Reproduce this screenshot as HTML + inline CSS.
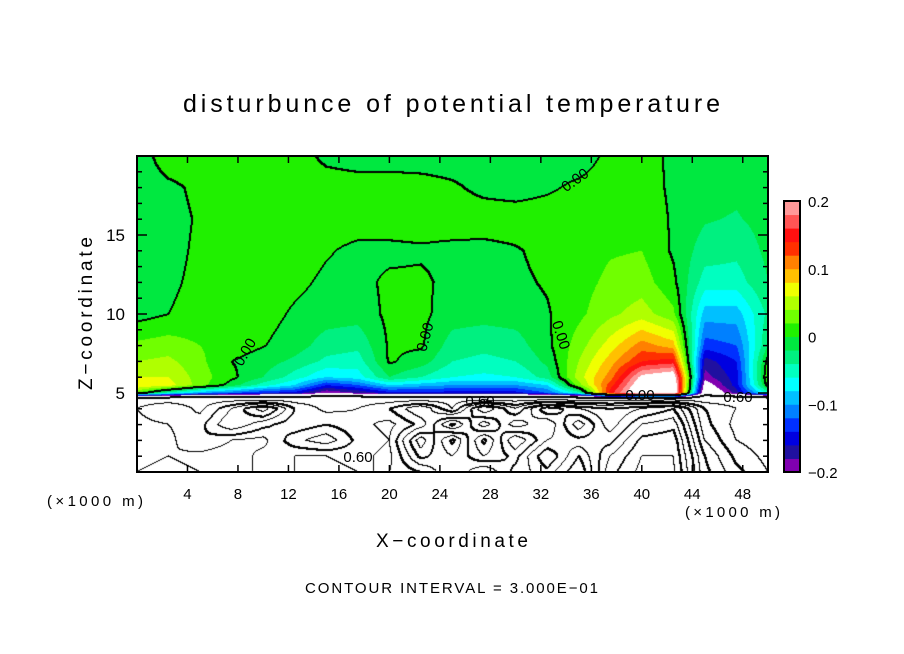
<!DOCTYPE html>
<html><head><meta charset="utf-8">
<style>
html,body{margin:0;padding:0;background:#fff;}
#wrap{position:relative;width:904px;height:654px;overflow:hidden;font-family:"Liberation Sans",sans-serif;}
#field{position:absolute;left:137px;top:156px;}
svg{position:absolute;left:0;top:0;}
</style></head>
<body>
<div id="wrap">
<canvas id="field" width="631" height="316"></canvas>
<svg id="ov" width="904" height="654"></svg>
</div>
<script>
// ---- data ----
const xCoords = [0,2.5,5,7.5,10,12.5,15,17.5,20,22.5,25,27.5,30,32.5,35,37.5,40,42.5,45,47.5,50];
const zLevels = [20,18,16,14,12,10,8,7,6,5.5,5,4.6,4,3,2,1,0];
const field = [
 [-0.01,0.01,0.01,0.01,0.01,0.01,-0.005,-0.01,-0.01,-0.01,-0.01,-0.01,-0.01,-0.01,-0.01,0.005,0.01,-0.005,-0.01,-0.01,-0.01],
 [-0.01,-0.004,0.004,0.01,0.01,0.01,0.01,0.01,0.01,0.008,0.003,-0.005,-0.008,-0.003,0.004,0.01,0.01,-0.004,-0.01,-0.015,-0.01],
 [-0.01,-0.006,0.002,0.01,0.01,0.01,0.01,0.01,0.01,0.01,0.01,0.01,0.01,0.01,0.01,0.012,0.015,-0.003,-0.018,-0.022,-0.012],
 [-0.01,-0.005,0.003,0.01,0.01,0.01,0.002,-0.005,-0.005,-0.003,-0.005,-0.006,-0.002,0.006,0.01,0.018,0.02,-0.003,-0.03,-0.035,-0.015],
 [-0.01,-0.003,0.004,0.01,0.01,0.005,-0.004,-0.006,0.004,0.004,-0.006,-0.006,-0.004,0.002,0.012,0.025,0.03,0.005,-0.05,-0.05,-0.02],
 [-0.008,0.0,0.006,0.01,0.008,-0.003,-0.01,-0.012,0.005,0.005,-0.01,-0.012,-0.01,-0.002,0.015,0.035,0.05,0.025,-0.09,-0.09,-0.035],
 [0.025,0.03,0.02,0.01,0.001,-0.01,-0.03,-0.035,0.003,0.003,-0.03,-0.035,-0.03,-0.005,0.03,0.07,0.11,0.09,-0.13,-0.12,-0.02],
 [0.04,0.045,0.025,0.0,-0.01,-0.025,-0.045,-0.05,0.003,-0.01,-0.04,-0.045,-0.04,-0.015,0.04,0.09,0.14,0.15,-0.17,-0.14,0.01],
 [0.06,0.06,0.03,0.005,-0.02,-0.05,-0.08,-0.07,-0.02,-0.04,-0.06,-0.065,-0.06,-0.03,0.05,0.11,0.21,0.23,-0.19,-0.15,0.02],
 [0.08,0.07,0.03,-0.01,-0.05,-0.08,-0.14,-0.12,-0.08,-0.09,-0.1,-0.1,-0.1,-0.08,0.03,0.13,0.23,0.25,-0.22,-0.15,0.01],
 [0.02,-0.05,-0.1,-0.12,-0.14,-0.15,-0.2,-0.18,-0.15,-0.15,-0.15,-0.15,-0.15,-0.12,-0.05,0.15,0.25,0.25,-0.25,-0.17,-0.05],
 [-0.4,-0.4,-0.4,-0.4,-0.4,-0.4,-0.4,-0.4,-0.4,-0.4,-0.4,-0.4,-0.4,-0.4,-0.4,-0.4,-0.4,-0.4,-0.4,-0.4,-0.4],
 [-0.6,-0.9,-0.5,-1.2,-2.0,-0.9,-0.5,-0.6,-0.9,-1.5,-0.6,-2.1,-1.2,-2.4,-1.8,-1.5,-1.8,-2.1,-0.9,-0.6,-0.5],
 [-0.5,-0.6,-0.8,-1.5,-1.0,-0.7,-0.9,-0.7,-0.5,-1.0,-2.2,-1.0,-2.0,-1.5,-2.6,-1.6,-2.4,-2.6,-1.0,-0.5,-0.4],
 [-0.4,-0.5,-0.9,-0.6,-0.5,-1.1,-1.4,-0.8,-0.6,-2.0,-0.8,-2.2,-0.9,-1.8,-2.0,-2.0,-2.8,-2.9,-1.2,-0.6,-0.4],
 [-0.5,-0.6,-0.5,-0.4,-0.7,-0.6,-0.6,-0.7,-0.5,-1.6,-1.2,-1.8,-1.4,-2.4,-1.5,-2.4,-3.0,-3.0,-1.5,-0.8,-0.5],
 [-0.6,-0.7,-0.6,-0.6,-0.6,-0.6,-0.5,-0.6,-0.6,-0.9,-1.5,-0.9,-1.6,-2.0,-1.2,-2.6,-3.1,-3.1,-1.6,-1.0,-0.6]
];
const levelColors = ["#8000b0","#2010a0","#0000e0","#0030ff","#0080ff","#00c0ff","#00ffff","#00ffc0","#00f080","#00e840",
                     "#20f000","#70ff00","#b0ff00","#f0ff00","#ffc000","#ff8000","#ff3000","#ff1010","#ff5555","#ff9999"];
const xTicks = [4,8,12,16,20,24,28,32,36,40,44,48];
const yTicks = [5,10,15];
const cbTicks = [0.2,0.1,0,-0.1,-0.2];
const cbLabels = ["0.2","0.1","0","\u22120.1","\u22120.2"];
const contourInterval = 0.3;

// ---- axes ----
const PX0=137, PX1=768, PY0=156, PY1=472, XMAX=50, ZMAX=20;
const sx = x => PX0 + x/XMAX*(PX1-PX0);
const sz = z => PY1 - z/ZMAX*(PY1-PY0);
const CBY0=201, CBY1=472;
const scb = v => CBY1 - (v+0.2)/0.4*(CBY1-CBY0);

function findIdx(arr, v, desc){
  for(let i=0;i<arr.length-1;i++){
    const a=arr[i], b=arr[i+1];
    if(desc ? (v<=a && v>=b) : (v>=a && v<=b)) return i;
  }
  return desc ? (v>arr[0]?0:arr.length-2) : (v<arr[0]?0:arr.length-2);
}
function sample(x,z){
  const i=findIdx(xCoords,x,false), j=findIdx(zLevels,z,true);
  const tx=(x-xCoords[i])/(xCoords[i+1]-xCoords[i]);
  const tz=(z-zLevels[j])/(zLevels[j+1]-zLevels[j]);
  const a=field[j][i], b=field[j][i+1], c=field[j+1][i], d=field[j+1][i+1];
  return (a*(1-tx)+b*tx)*(1-tz)+(c*(1-tx)+d*tx)*tz;
}
function hex(h){return [parseInt(h.substr(1,2),16),parseInt(h.substr(3,2),16),parseInt(h.substr(5,2),16)];}
const rgb = levelColors.map(hex);

(function draw(){
  const cv=document.getElementById('field'), ctx=cv.getContext('2d');
  const W=cv.width, H=cv.height;
  const img=ctx.createImageData(W,H);
  const vals=new Float32Array(W*H);
  for(let py=0;py<H;py++){
    const z=(PY1-(PY0+py+0.5))/(PY1-PY0)*ZMAX;
    for(let px=0;px<W;px++){
      const x=(px+0.5)/(PX1-PX0)*XMAX;
      vals[py*W+px]=sample(x,z);
    }
  }
  const idx=new Int16Array(W*H);
  for(let k=0;k<W*H;k++){
    const v=vals[k];
    idx[k]=Math.floor(v/contourInterval);
    let c=[255,255,255];
    if(v>-0.2 && v<0.2){ c=rgb[Math.min(19,Math.max(0,Math.floor((v+0.2)/0.02)))]; }
    img.data[k*4]=c[0];img.data[k*4+1]=c[1];img.data[k*4+2]=c[2];img.data[k*4+3]=255;
  }
  function blk(k){img.data[k*4]=0;img.data[k*4+1]=0;img.data[k*4+2]=0;}
  for(let py=0;py<H-1;py++){
    for(let px=0;px<W-1;px++){
      const k=py*W+px, a=idx[k], r=idx[k+1], d=idx[k+W];
      if(a!==r || a!==d){
        blk(k);
        const zero=(Math.min(a,r,d)===-1 && Math.max(a,r,d)===0);
        const thick=zero || (Math.min(a,r,d)%2===0);
        if(thick){ blk(k+1); blk(k+W); }
      }
    }
  }
  ctx.putImageData(img,0,0);
})();

// ---- overlay ----
const NS="http://www.w3.org/2000/svg";
const svg=document.getElementById('ov');
function el(tag,attrs,parent){const e=document.createElementNS(NS,tag);for(const k in attrs)e.setAttribute(k,attrs[k]);(parent||svg).appendChild(e);return e;}
function txt(s,attrs,parent){const e=el('text',attrs,parent);e.textContent=s;return e;}

const frame=el('rect',{x:PX0,y:PY0,width:PX1-PX0,height:PY1-PY0,fill:'none',stroke:'#000','stroke-width':2});



const xt=el('g',{stroke:'#000','stroke-width':1.5});


for(let i=0;i<xTicks.length;i++){
  const X=sx(xTicks[i]);
  el('line',{x1:X,y1:PY1,x2:X,y2:PY1-7},xt);
  el('line',{x1:X,y1:PY0,x2:X,y2:PY0+7},xt);
  const t=txt(String(xTicks[i]),{x:X,y:499,'text-anchor':'middle','font-size':15,fill:'#000',stroke:'none'});
  
  
}
const yt=el('g',{stroke:'#000','stroke-width':1.5});


for(let z=1;z<ZMAX;z++){
  const Y=sz(z), L=(z%5===0)?10:5;
  el('line',{x1:PX0,y1:Y,x2:PX0+L,y2:Y},yt);
  el('line',{x1:PX1,y1:Y,x2:PX1-L,y2:Y},yt);
}
for(let i=0;i<yTicks.length;i++){
  const t=txt(String(yTicks[i]),{x:125,y:sz(yTicks[i])+6,'text-anchor':'end','font-size':17,fill:'#000'});
  
  
}

const clab=[["0.00",245,357,-60],["0.00",425,342,-75],["0.00",561,340,72],["0.00",575,185,-35],["0.00",640,400,0],["0.60",738,402,0],["0.60",358,462,0],["0.60",480,406,0]];
for(const c of clab){
  const t=txt(c[0],{x:c[1],y:c[2],'text-anchor':'middle','font-size':15,fill:'#000',transform:`rotate(${c[3]} ${c[1]} ${c[2]-5})`});
  
  
}

const cb=el('g',{});


for(let i=0;i<levelColors.length;i++){
  const v0=-0.2+i*0.02, v1=v0+0.02;
  const r=el('rect',{x:784,y:scb(v1),width:16,height:scb(v0)-scb(v1)+0.5,fill:levelColors[i]},cb);
  
  
}
el('rect',{x:784,y:CBY0,width:16,height:CBY1-CBY0,fill:'none',stroke:'#000','stroke-width':2},cb);
for(let i=0;i<cbTicks.length;i++){
  const t=txt(cbLabels[i],{x:808,y:scb(cbTicks[i])+6,'font-size':15,fill:'#000'},cb);
  
  
}

let t;
t=txt("disturbunce of potential temperature",{x:183,y:112,'font-size':25,textLength:537,lengthAdjust:'spacing',fill:'#000'});


t=txt("Z\u2212coordinate",{x:0,y:0,'font-size':19,textLength:153,lengthAdjust:'spacing',transform:'translate(92,390) rotate(-90)',fill:'#000'});


t=txt("X\u2212coordinate",{x:376,y:547,'font-size':19,textLength:152,lengthAdjust:'spacing',fill:'#000'});


t=txt("(\u00d71000 m)",{x:47,y:506,'font-size':15,textLength:96,lengthAdjust:'spacing',fill:'#000'});


t=txt("(\u00d71000 m)",{x:685,y:517,'font-size':15,textLength:95,lengthAdjust:'spacing',fill:'#000'});


t=txt("CONTOUR INTERVAL = 3.000E\u221201",{x:305,y:593,'font-size':15,textLength:293,lengthAdjust:'spacing',fill:'#000'});


</script>
</body></html>
